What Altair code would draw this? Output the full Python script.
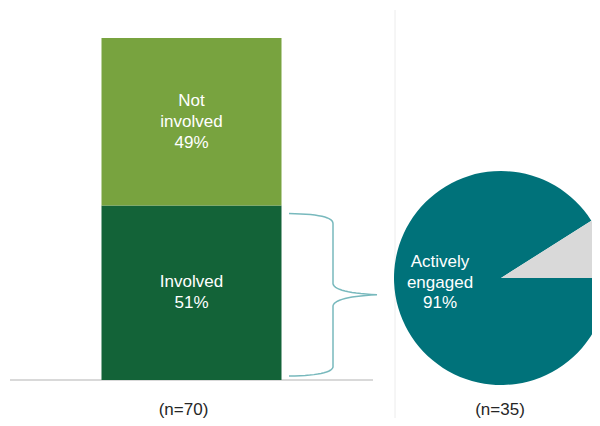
import math
import altair as alt
import pandas as pd

# ---------------- data ----------------
bar_categories = ["Involved", "Not involved"]
bar_values = [51, 49]
bar_labels = ["Involved\n51%", "Not\ninvolved\n49%"]

pie_categories = ["Actively engaged", "Not actively engaged"]
pie_values = [91, 9]
pie_label = "Actively\nengaged\n91%"

sample_labels = ["(n=70)", "(n=35)"]

# ---------------- layout / style ----------------
W, H = 584, 410
Y0_PX, Y100_PX = 372.0, 30.0           # pixel row of 0% and 100% of the bar
PX_PER_PCT = (Y0_PX - Y100_PX) / 100.0
Y_DOMAIN = [-(H - Y0_PX) / PX_PER_PCT, 100 + Y100_PX / PX_PER_PCT]

BAR_X0, BAR_X1 = 93.5, 273.5
BAR_COLORS = ["#136338", "#78a33f"]
PIE_COLORS = ["#00727a", "#d9d9d9"]
PIE_CX, PIE_CY, PIE_R = 493, 270, 107
FONT = "Liberation Sans"
BRACE_COLOR = "#78b9bd"
LH = 21

yscale = alt.Scale(domain=Y_DOMAIN, nice=False, zero=False)
xscale = alt.Scale(domain=[0, W], nice=False, zero=False)


def to_pct(ypx):
    return (Y0_PX - ypx) / PX_PER_PCT


def to_px(pct):
    return Y0_PX - pct * PX_PER_PCT


# ---------------- bar ----------------
starts, ends, acc = [], [], 0
for v in bar_values:
    starts.append(acc)
    acc += v
    ends.append(acc)
mids = [(s + e) / 2 for s, e in zip(starts, ends)]
# first line position so that the multi-line block is centred in the segment
label_y = [m + (lab.count("\n") * LH / 2) / PX_PER_PCT for m, lab in zip(mids, bar_labels)]
bar_df = pd.DataFrame({
    "cat": bar_categories,
    "start": starts,
    "end": ends,
    "ly": label_y,
    "label": bar_labels,
})

bar = alt.Chart(bar_df).mark_rect().encode(
    x=alt.value(BAR_X0),
    x2=alt.value(BAR_X1),
    y=alt.Y("start:Q", scale=yscale, axis=None),
    y2="end:Q",
    color=alt.Color("cat:N", scale=alt.Scale(domain=bar_categories, range=BAR_COLORS), legend=None),
)

bar_text = alt.Chart(bar_df).mark_text(
    lineBreak="\n", font=FONT, fontSize=17, lineHeight=LH, color="#ffffff", baseline="middle"
).encode(
    x=alt.value((BAR_X0 + BAR_X1) / 2),
    y=alt.Y("ly:Q", scale=yscale, axis=None),
    text="label:N",
)

baseline = alt.Chart(pd.DataFrame({"v": [0]})).mark_rule(color="#d9d9d9", strokeWidth=2).encode(
    x=alt.value(2), x2=alt.value(365), y=alt.Y("v:Q", scale=yscale, axis=None)
)

separator = alt.Chart(pd.DataFrame({"v": [0]})).mark_rule(color="#ececec", strokeWidth=1).encode(
    x=alt.value(387), y=alt.value(2), y2=alt.value(H)
)

# ---------------- brace (spanning the "Involved" segment) ----------------
top_px = to_px(ends[0]) + 8
bot_px = to_px(starts[0]) - 4
mid_px = to_px(ends[0] / 2) + 2
xa, xv, xt = 281, 325, 369


def quad(p0, c, p2, n=14):
    pts = []
    for k in range(n + 1):
        t = k / n
        x = (1 - t) ** 2 * p0[0] + 2 * (1 - t) * t * c[0] + t * t * p2[0]
        y = (1 - t) ** 2 * p0[1] + 2 * (1 - t) * t * c[1] + t * t * p2[1]
        pts.append((x, y))
    return pts


pts = []
pts += quad((xa, top_px), (xv, top_px + 0.5), (xv, top_px + 10))
pts += [(xv, mid_px - 11)]
pts += quad((xv, mid_px - 11), (xv + 2, mid_px - 2), (xt, mid_px))
pts += quad((xt, mid_px), (xv + 2, mid_px + 2), (xv, mid_px + 11))
pts += [(xv, bot_px - 9)]
pts += quad((xv, bot_px - 9), (xv - 2, bot_px - 0.5), (xa, bot_px))
brace_df = pd.DataFrame({
    "i": list(range(len(pts))),
    "x": [p[0] for p in pts],
    "y": [to_pct(p[1]) for p in pts],
})
brace = alt.Chart(brace_df).mark_line(color=BRACE_COLOR, strokeWidth=1.5).encode(
    x=alt.X("x:Q", scale=xscale, axis=None),
    y=alt.Y("y:Q", scale=yscale, axis=None),
    order=alt.Order("i:Q"),
)

# ---------------- pie ----------------
pie_df = pd.DataFrame({"cat": pie_categories, "value": pie_values, "i": list(range(len(pie_values)))})
pie = alt.Chart(pie_df).mark_arc(clip=True).encode(
    theta=alt.Theta("value:Q", stack=True,
                    scale=alt.Scale(domain=[0, sum(pie_values)], range=[math.pi / 2, math.pi / 2 + 2 * math.pi])),
    color=alt.Color("cat:N", scale=alt.Scale(domain=pie_categories, range=PIE_COLORS), legend=None),
    order=alt.Order("i:Q"),
    x=alt.value(PIE_CX),
    y=alt.value(PIE_CY),
    radius=alt.value(PIE_R),
)

pie_text = alt.Chart(pd.DataFrame({"label": [pie_label]})).mark_text(
    lineBreak="\n", font=FONT, fontSize=17, lineHeight=20.5, color="#ffffff", baseline="middle"
).encode(x=alt.value(432), y=alt.value(254), text="label:N")

# ---------------- sample sizes ----------------
n1 = alt.Chart(pd.DataFrame({"label": [sample_labels[0]]})).mark_text(
    font=FONT, fontSize=17, color="#262626", baseline="alphabetic"
).encode(x=alt.value(175.5), y=alt.value(407), text="label:N")
n2 = alt.Chart(pd.DataFrame({"label": [sample_labels[1]]})).mark_text(
    font=FONT, fontSize=17, color="#262626", baseline="alphabetic"
).encode(x=alt.value(492), y=alt.value(407), text="label:N")

chart = alt.layer(
    separator, baseline, bar, bar_text, brace, pie, pie_text, n1, n2
).resolve_scale(color="independent").properties(
    width=W, height=H, padding=0, autosize=alt.AutoSizeParams(type="none")
).configure_view(stroke=None)

chart.save("out.html", embed_options={"renderer": "svg", "actions": False})
